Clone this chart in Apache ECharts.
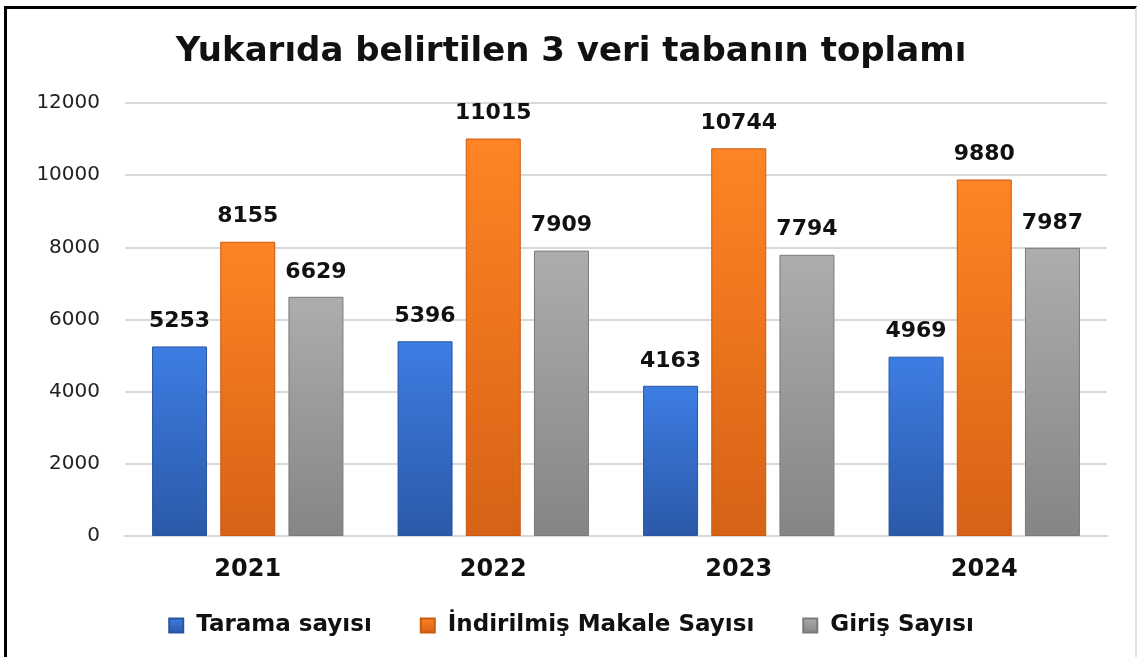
<!DOCTYPE html>
<html>
<head>
<meta charset="utf-8">
<script src="https://cdn.jsdelivr.net/npm/echarts@6/dist/echarts.min.js"></script>
<style>
  html, body { margin: 0; padding: 0; background: #fff; }
  #frame {
    position: absolute; left: 4px; top: 6px; width: 1133px; height: 660px;
    border-left: 3px solid #000; border-top: 3px solid #000; border-right: 2px solid #e0e0e0;
    box-sizing: border-box;
  }
  #main { position: absolute; left: 0; top: 0; width: 1142px; height: 657px; }
</style>
</head>
<body>
<div id="frame"></div>
<div id="main"></div>
<script>
const years = ['2021', '2022', '2023', '2024'];
const taramaSayisi = [5253, 5396, 4163, 4969];
const indirilmisMakale = [8155, 11015, 10744, 9880];
const girisSayisi = [6629, 7909, 7794, 7987];
const yTicks = [0, 2000, 4000, 6000, 8000, 10000, 12000];

const font = 'DejaVu Sans, Verdana, sans-serif';

function barStyle(top, bottom, border) {
  return {
    color: new echarts.graphic.LinearGradient(0, 0, 0, 1, [
      { offset: 0, color: top },
      { offset: 1, color: bottom }
    ]),
    borderColor: border,
    borderWidth: 1
  };
}

const labelStyle = {
  show: true,
  position: 'top',
  distance: 14,
  fontFamily: font,
  fontWeight: 'bold',
  fontSize: 22,
  color: '#111'
};

const chart = echarts.init(document.getElementById('main'));
chart.setOption({
  backgroundColor: 'transparent',
  animation: false,
  title: {
    text: 'Yukarıda belirtilen 3 veri tabanın toplamı',
    left: 'center',
    top: 35,
    padding: 0,
    textStyle: { fontFamily: font, fontWeight: 'bold', fontSize: 34, color: '#111' }
  },
  legend: {
    top: 609,
    left: 'center',
    icon: 'rect',
    itemWidth: 14,
    itemHeight: 14,
    itemGap: 48,
    textStyle: {
      fontFamily: font, fontWeight: 'bold', fontSize: 23, color: '#111',
      padding: [0, 0, 0, 8]
    },
    data: ['Tarama sayısı', 'İndirilmiş Makale Sayısı', 'Giriş Sayısı']
  },
  grid: { left: 125, right: 35, top: 103, bottom: 121 },
  xAxis: {
    type: 'category',
    data: years,
    axisLine: { lineStyle: { color: '#d9d9d9', width: 2 } },
    axisTick: { show: false },
    axisLabel: { margin: 22, fontFamily: font, fontWeight: 'bold', fontSize: 24, color: '#111' }
  },
  yAxis: {
    type: 'value',
    min: yTicks[0],
    max: yTicks[yTicks.length - 1],
    interval: 2000,
    axisLine: { show: false },
    axisTick: { show: false },
    axisLabel: {
      margin: 25, fontFamily: font, fontSize: 20, color: '#222',
      formatter: v => String(v)
    },
    splitLine: { lineStyle: { color: '#d9d9d9', width: 2 } }
  },
  series: [
    {
      name: 'Tarama sayısı',
      type: 'bar',
      data: taramaSayisi,
      barWidth: 55,
      barGap: '24%',
      itemStyle: barStyle('#3d7de3', '#2b59a8', '#2a55a0'),
      label: labelStyle
    },
    {
      name: 'İndirilmiş Makale Sayısı',
      type: 'bar',
      data: indirilmisMakale,
      barWidth: 55,
      barGap: '24%',
      itemStyle: barStyle('#ff8424', '#d66216', '#c95a12'),
      label: labelStyle
    },
    {
      name: 'Giriş Sayısı',
      type: 'bar',
      data: girisSayisi,
      barWidth: 55,
      barGap: '24%',
      itemStyle: barStyle('#adadad', '#858585', '#7a7a7a'),
      label: labelStyle
    }
  ]
});
</script>
</body>
</html>
